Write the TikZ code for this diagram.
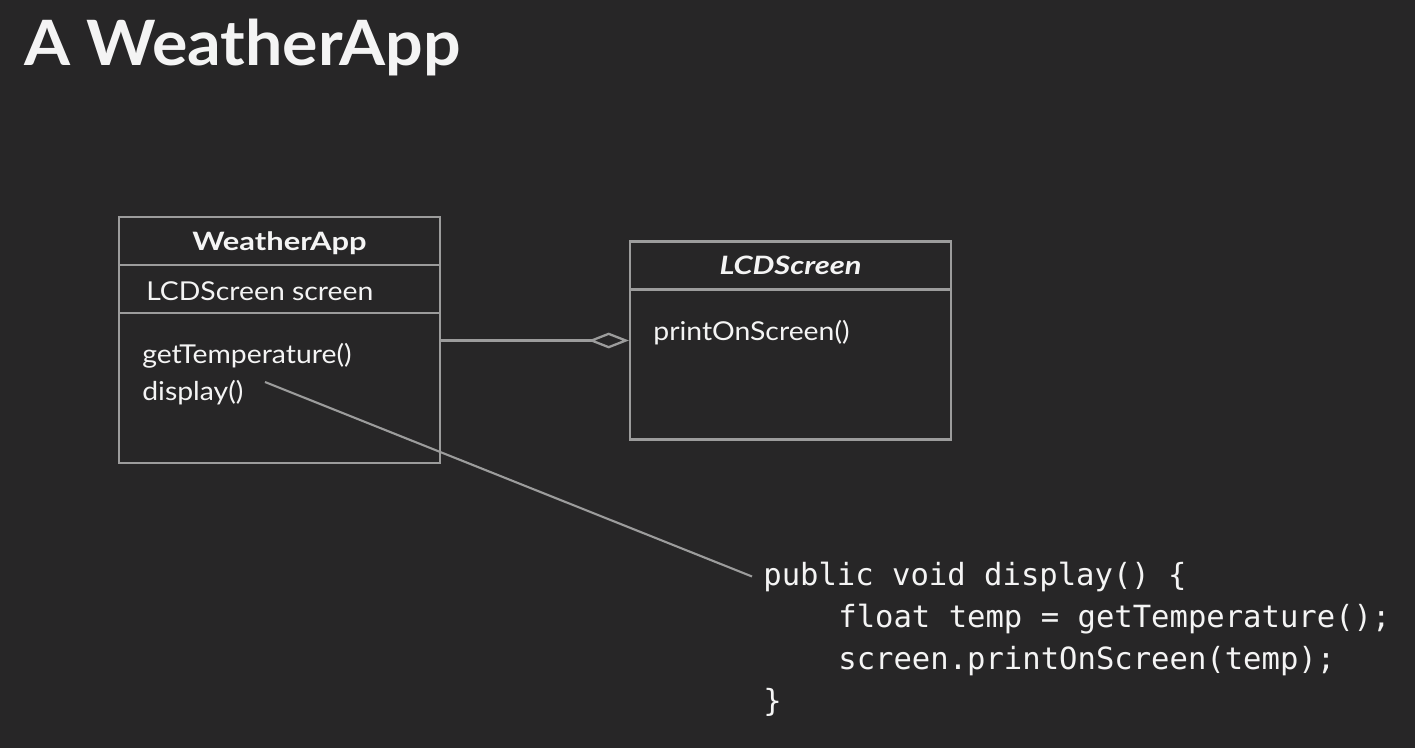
\documentclass[tikz,border=0pt]{standalone}
\usepackage{fontspec}
\setmainfont{Lato}
\setmonofont{DejaVu Sans Mono}
\newfontfamily\titlefont[FakeStretch=1.06]{Lato}
\newfontfamily\headfont[FakeStretch=1.22]{Lato}
\newfontfamily\memberfont[FakeStretch=1.09]{Lato}
\usetikzlibrary{arrows.meta}

\definecolor{slidebg}{HTML}{272627}
\definecolor{umlgray}{HTML}{9C9C9C}
\definecolor{umlwhite}{HTML}{F4F4F4}

\tikzset{
  umlbox/.style={draw=umlgray, line width=1.3pt, minimum width=6.42cm, inner sep=0pt},
  umltext/.style={text=umlwhite, inner sep=0pt, font=\memberfont\fontsize{14.8}{17}\selectfont},
  umlhead/.style={umltext, anchor=base, font=\headfont\fontsize{14.4}{16}\selectfont\bfseries},
  codeline/.style={text=umlwhite, anchor=base west, inner xsep=0.22cm, inner ysep=0pt,
    font=\ttfamily\fontsize{17.4}{20}\selectfont},
  agg/.style={draw=umlgray, line width=1.3pt,
    -{Diamond[open, length=23pt, width=9pt, line width=1.3pt]}},
}

\begin{document}
\begin{tikzpicture}[x=0.02cm, y=-0.02cm]
  \fill[slidebg] (0,0) rectangle (1415,748);
  \useasboundingbox (0,0) rectangle (1415,748);

  \node[text=umlwhite, anchor=base west, inner sep=0pt,
    font=\titlefont\fontsize{35.6}{40}\selectfont\bfseries] (title) at (24,65) {A WeatherApp};

  % WeatherApp class
  \node[umlbox, minimum height=0.96cm] (waHead) at (279.5,241) {};
  \node[umlbox, minimum height=0.96cm] (waAttr) at (279.5,289) {};
  \node[umlbox, minimum height=3cm] (waOps) at (279.5,388) {};
  \node[umlhead] (waName) at (279.5,250) {WeatherApp};
  \node[umltext, anchor=base west] (waScreen) at (146,300) {LCDScreen screen};
  \node[umltext, anchor=base west] (waTemp) at (142,363) {getTemperature()};
  \node[umltext, anchor=base west] (waDisplay) at (142,400) {display()};

  % LCDScreen class
  \node[umlbox, minimum height=0.96cm] (lcdHead) at (790.5,265.5) {};
  \node[umlbox, minimum height=3cm] (lcdOps) at (790.5,364.5) {};
  \node[umlhead] (lcdName) at (790.5,274) {\itshape LCDScreen};
  \node[umltext, anchor=base west] (lcdPrint) at (653,340) {printOnScreen()};

  % aggregation
  \coordinate (aggY) at (540,340.5);
  \draw[agg] (waOps.east |- aggY) -- (lcdOps.west |- aggY);

  % code of display()
  \node[codeline] (code1) at (752,585) {public void display() \{};
  \node[codeline] (code2) at (827,627) {float temp = getTemperature();};
  \node[codeline] (code3) at (827,669) {screen.printOnScreen(temp);};
  \node[codeline] (code4) at (752,711) {\}};

  \coordinate (dispTip) at (265,382);
  \draw[umlgray, line width=1.2pt] (dispTip) -- (code1.west);
\end{tikzpicture}
\end{document}
